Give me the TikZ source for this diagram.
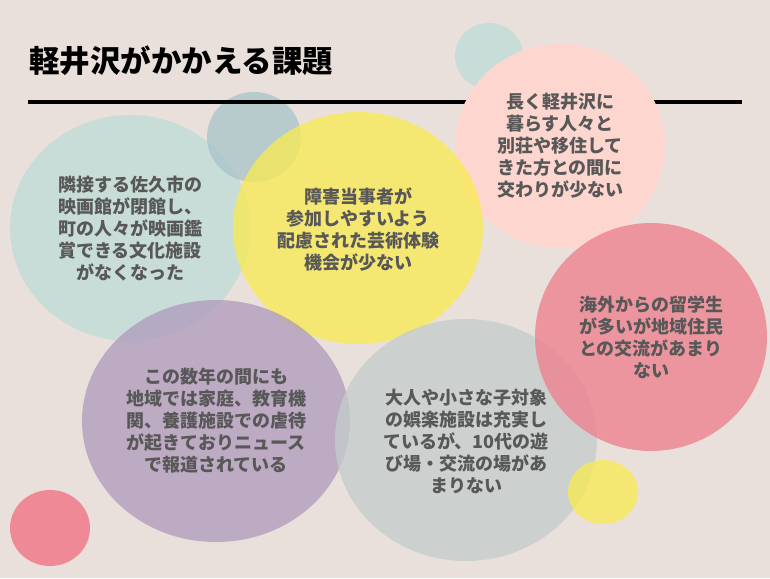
\documentclass[tikz,border=0pt]{standalone}
\usepackage{fontspec}
\usepackage{tikz}
\newfontfamily\cjk{Noto Sans CJK JP}
\definecolor{bgbeige}{RGB}{234,224,219}
\definecolor{tealc}{RGB}{190,220,215}
\definecolor{tealdark}{RGB}{167,195,200}
\definecolor{yellowc}{RGB}{249,235,79}
\definecolor{pinklight}{RGB}{253,214,208}
\definecolor{rosec}{RGB}{239,124,139}
\definecolor{purplec}{RGB}{175,153,188}
\definecolor{grayc}{RGB}{195,205,204}
\definecolor{redc}{RGB}{240,109,126}
\definecolor{txtgray}{RGB}{88,88,88}

\begin{document}
\begin{tikzpicture}[x=1pt, y=-1pt,
		bubble/.style={fill opacity=0.75},
		bubbletext/.style={align=center, text=txtgray, inner sep=0pt, font=\cjk\bfseries\fontsize{18}{22}\selectfont}]
		%%%%% START %%%%%
		
		\fill[bgbeige] (0, 0) rectangle (770, 578);
		\useasboundingbox (0, 0) rectangle (770, 578);
		
		\fill[bubble, tealc] (130, 228) ellipse [x radius=120pt, y radius=113pt];
		\fill[bubble, tealdark] (254, 137) ellipse [x radius=47pt, y radius=45pt];
		
		\draw[line width=4pt] (28, 102) -- (742, 102);
		
		\fill[bubble, tealc] (489, 56) ellipse [x radius=34pt, y radius=33pt];
		\fill[pinklight] (560, 146) ellipse [x radius=105pt, y radius=102pt];
		\fill[bubble, yellowc] (358, 228) ellipse [x radius=125pt, y radius=116pt];
		\fill[bubble, purplec] (216, 421) ellipse [x radius=134pt, y radius=121pt];
		\fill[bubble, grayc] (466, 440) ellipse [x radius=131pt, y radius=121pt];
		\fill[bubble, rosec] (651, 337) ellipse [x radius=116pt, y radius=114pt];
		\fill[bubble, yellowc] (603, 492) ellipse [x radius=35pt, y radius=32pt];
		\fill[bubble, redc] (50, 528) ellipse [x radius=40pt, y radius=38pt];
		
		\node[anchor=west, inner sep=0pt, font=\cjk\bfseries\fontsize{30.5}{33}\selectfont] (title) at (29, 61) {軽井沢がかかえる課題};
		
		\node[bubbletext] (cinema) at (130, 229) {隣接する佐久市の\\映画館が閉館し、\\町の人々が映画鑑\\賞できる文化施設\\がなくなった};
		\node[bubbletext] (art) at (358, 230) {障害当事者が\\参加しやすいよう\\配慮された芸術体験\\機会が少ない};
		\node[bubbletext] (residents) at (560, 146) {長く軽井沢に\\暮らす人々と\\別荘や移住して\\きた方との間に\\交わりが少ない};
		\node[bubbletext] (students) at (651, 337) {海外からの留学生\\が多いが地域住民\\との交流があまり\\ない};
		\node[bubbletext] (abuse) at (216, 421) {この数年の間にも\\地域では家庭、教育機\\関、養護施設での虐待\\が起きておりニュース\\で報道されている};
		\node[bubbletext] (youth) at (466, 441) {大人や小さな子対象\\の娯楽施設は充実し\\ているが、10代の遊\\び場・交流の場があ\\まりない};
		
		%%%%% END %%%%%
\end{tikzpicture}
\end{document}
